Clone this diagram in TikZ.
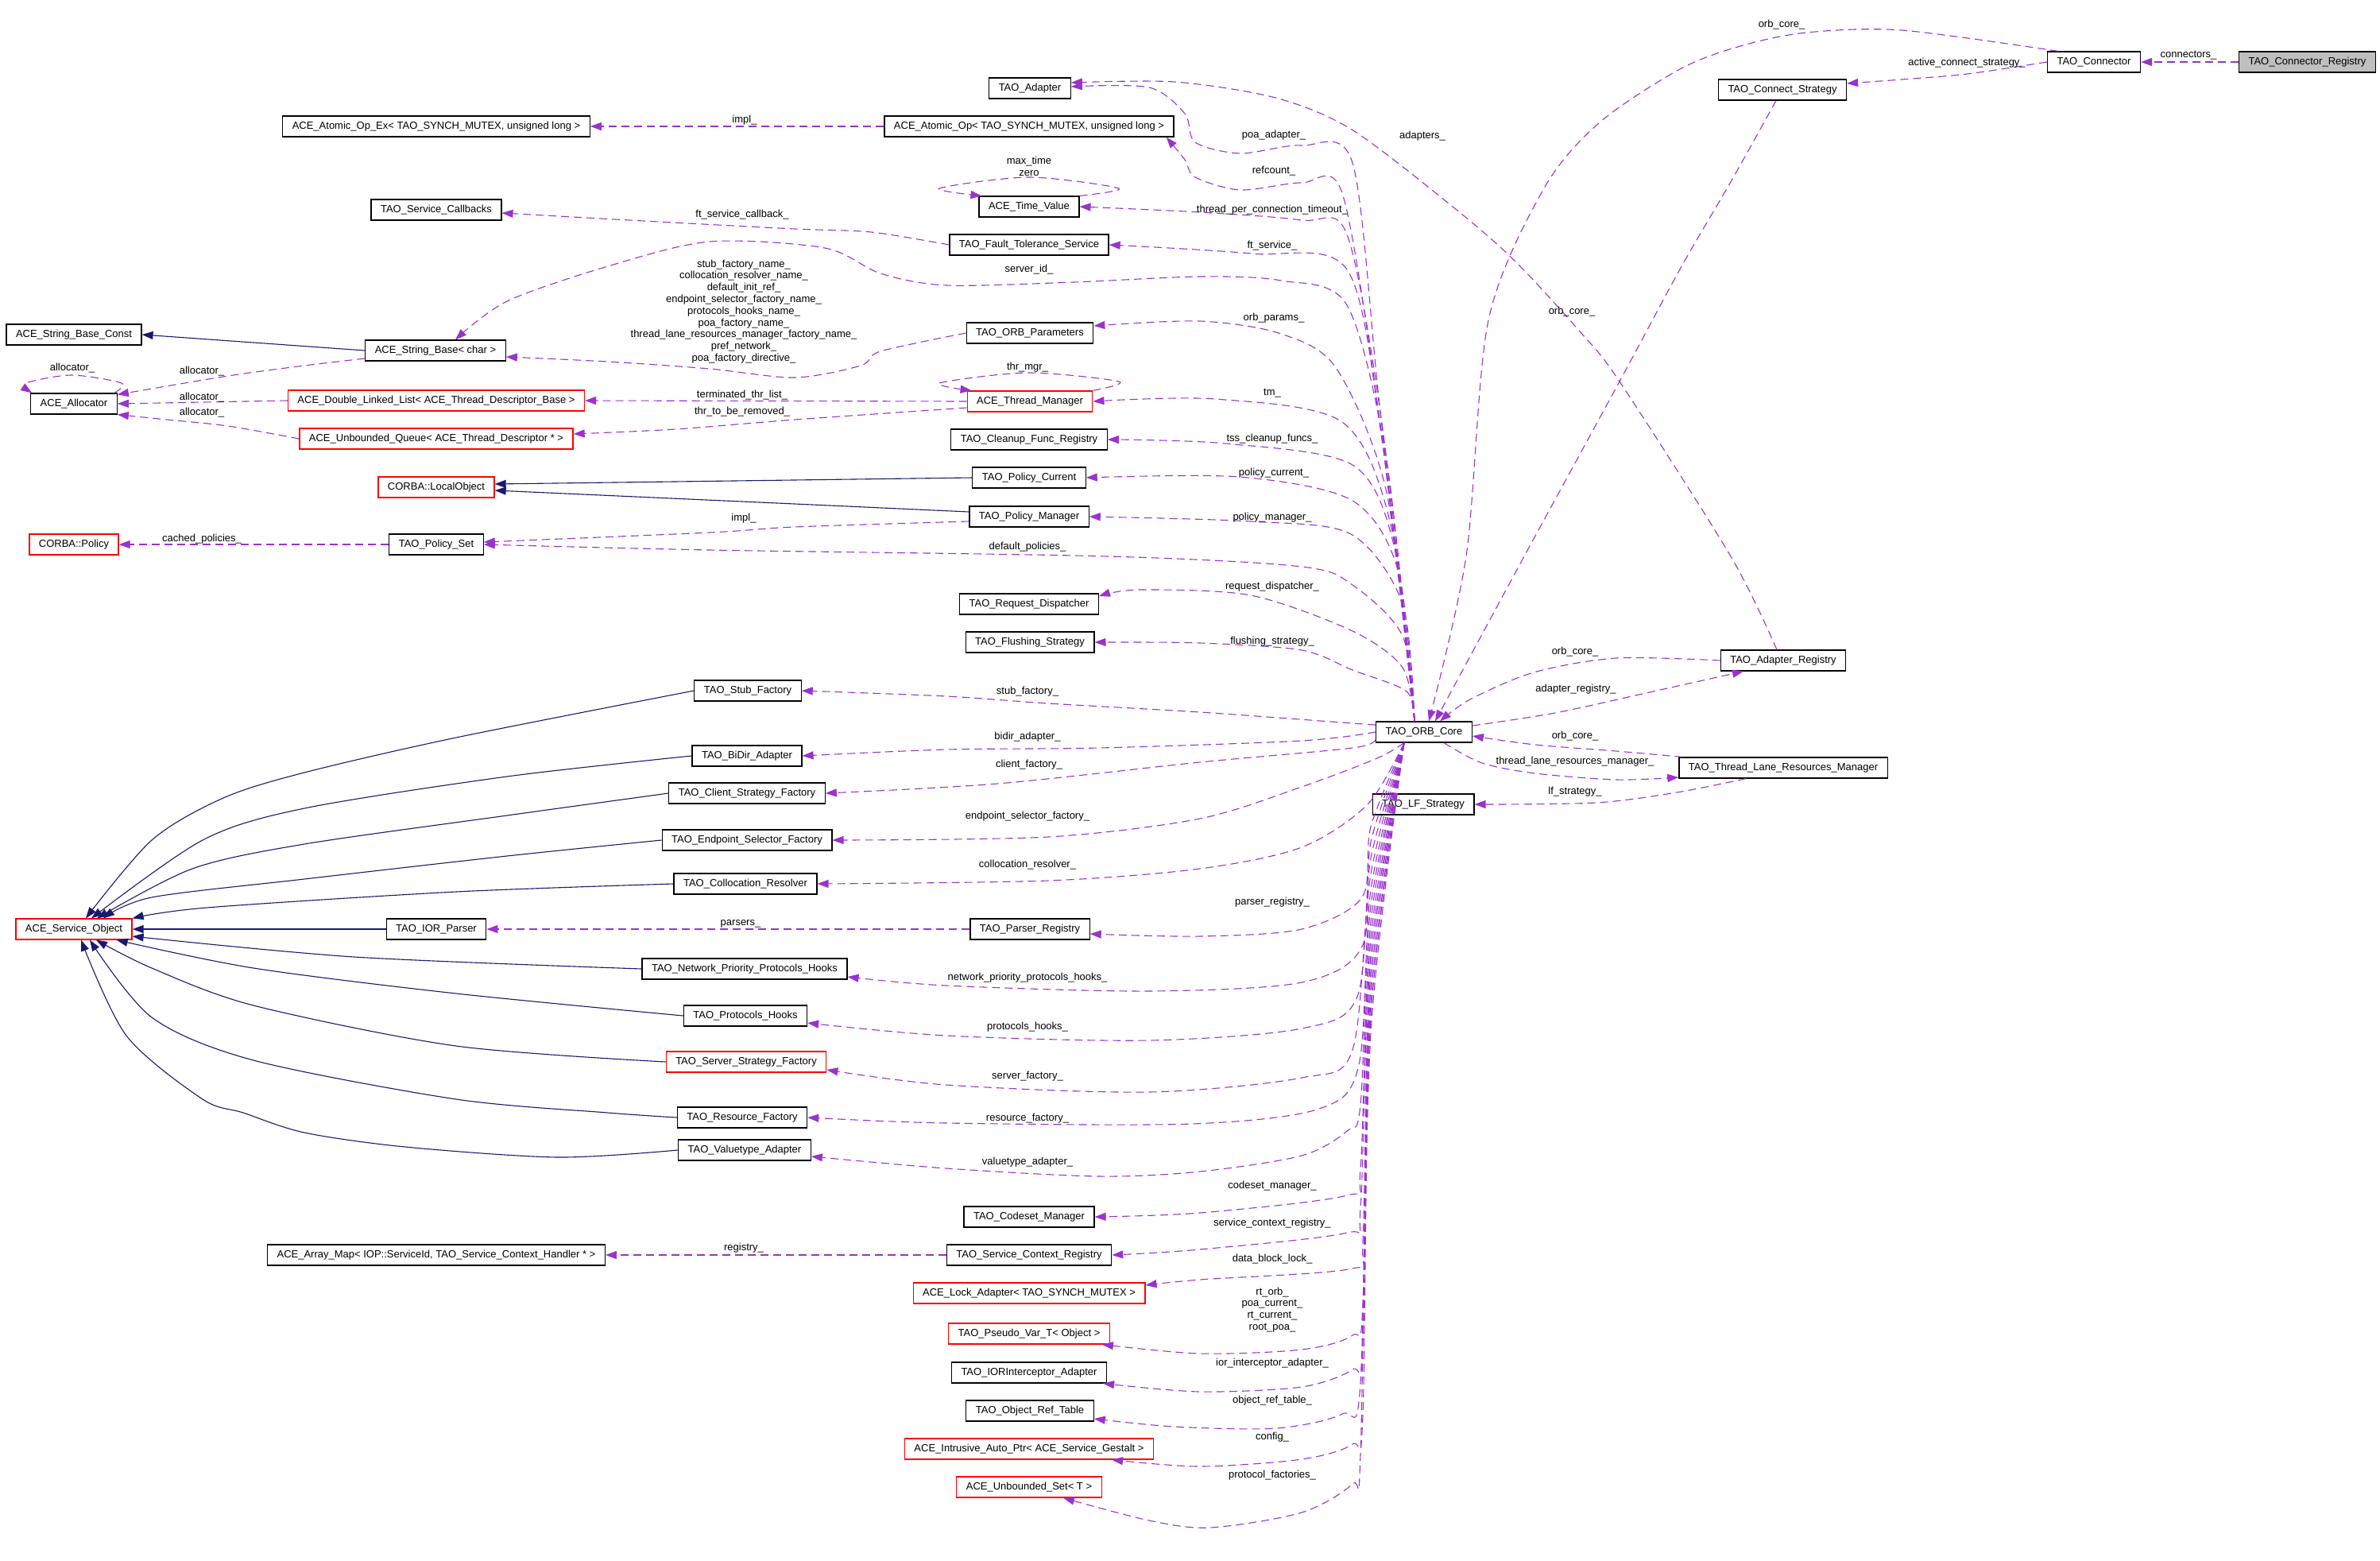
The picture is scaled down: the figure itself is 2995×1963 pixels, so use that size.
\documentclass[tikz,border=0pt]{standalone}
\usepackage{fontspec}
\setmainfont{Liberation Sans}
\usetikzlibrary{arrows.meta,calc}
\definecolor{usecol}{HTML}{9A32CD}
\definecolor{isacol}{HTML}{191970}
\definecolor{hilite}{HTML}{BFBFBF}

\begin{document}
\begin{tikzpicture}[x=1pt, y=-1pt,
    cls/.style={rectangle, draw=black, line width=1.2pt, minimum height=26pt, inner xsep=12pt, inner ysep=0pt, font=\fontsize{13}{15}\selectfont},
    clsred/.style={cls, draw=red},
    uses/.style={usecol, line width=1.1pt, dash pattern=on 10pt off 6pt, -{Triangle[length=14pt,width=10pt]}},
    isa/.style={isacol, line width=1.1pt, -{Triangle[length=14pt,width=10pt]}},
    lbl/.style={font=\fontsize{13}{14.8}\selectfont, align=center, inner sep=0pt}]
    \useasboundingbox (0,0) rectangle (2995,1963);

    % classes, left to right
    \node[cls] (strconst) at (93,421) {ACE\_String\_Base\_Const};
    \node[cls] (alloc) at (93,508) {ACE\_Allocator};
    \node[clsred] (policy) at (93,685) {CORBA::Policy};
    \node[clsred] (svcobj) at (93,1169) {ACE\_Service\_Object};

    \node[cls] (atomicex) at (549,159) {ACE\_Atomic\_Op\_Ex< TAO\_SYNCH\_MUTEX, unsigned long >};
    \node[cls] (svccb) at (549,264) {TAO\_Service\_Callbacks};
    \node[cls] (strbase) at (548,441) {ACE\_String\_Base< char >};
    \node[clsred] (dlist) at (549,504) {ACE\_Double\_Linked\_List< ACE\_Thread\_Descriptor\_Base >};
    \node[clsred] (uqueue) at (549,552) {ACE\_Unbounded\_Queue< ACE\_Thread\_Descriptor * >};
    \node[clsred] (localobj) at (549,613) {CORBA::LocalObject};
    \node[cls] (policyset) at (549,685) {TAO\_Policy\_Set};
    \node[cls] (iorparser) at (549,1169) {TAO\_IOR\_Parser};
    \node[cls] (arraymap) at (549,1579) {ACE\_Array\_Map< IOP::ServiceId, TAO\_Service\_Context\_Handler * >};

    \node[cls] (stubf) at (941,869) {TAO\_Stub\_Factory};
    \node[cls] (bidir) at (940,951) {TAO\_BiDir\_Adapter};
    \node[cls] (clientsf) at (940,998) {TAO\_Client\_Strategy\_Factory};
    \node[cls] (epsel) at (940,1057) {TAO\_Endpoint\_Selector\_Factory};
    \node[cls] (colloc) at (938,1112) {TAO\_Collocation\_Resolver};
    \node[cls] (nethooks) at (937,1219) {TAO\_Network\_Priority\_Protocols\_Hooks};
    \node[cls] (prothooks) at (938,1278) {TAO\_Protocols\_Hooks};
    \node[clsred] (serversf) at (939,1336) {TAO\_Server\_Strategy\_Factory};
    \node[cls] (resf) at (934,1406) {TAO\_Resource\_Factory};
    \node[cls] (vtadapter) at (937,1447) {TAO\_Valuetype\_Adapter};

    \node[cls] (adapter) at (1296,111) {TAO\_Adapter};
    \node[cls] (atomic) at (1295,159) {ACE\_Atomic\_Op< TAO\_SYNCH\_MUTEX, unsigned long >};
    \node[cls] (timeval) at (1295,260) {ACE\_Time\_Value};
    \node[cls] (ftsvc) at (1295,308) {TAO\_Fault\_Tolerance\_Service};
    \node[cls] (orbparams) at (1296,419) {TAO\_ORB\_Parameters};
    \node[clsred] (thrmgr) at (1296,505) {ACE\_Thread\_Manager};
    \node[cls] (cleanup) at (1295,553) {TAO\_Cleanup\_Func\_Registry};
    \node[cls] (polcur) at (1295,601) {TAO\_Policy\_Current};
    \node[cls] (polmgr) at (1295,650) {TAO\_Policy\_Manager};
    \node[cls] (reqdisp) at (1295,760) {TAO\_Request\_Dispatcher};
    \node[cls] (flush) at (1296,808) {TAO\_Flushing\_Strategy};
    \node[cls] (parserreg) at (1296,1169) {TAO\_Parser\_Registry};
    \node[cls] (codeset) at (1295,1531) {TAO\_Codeset\_Manager};
    \node[cls] (svcctx) at (1295,1579) {TAO\_Service\_Context\_Registry};
    \node[clsred] (lockad) at (1295,1627) {ACE\_Lock\_Adapter< TAO\_SYNCH\_MUTEX >};
    \node[clsred] (pseudo) at (1295,1678) {TAO\_Pseudo\_Var\_T< Object >};
    \node[cls] (iorint) at (1295,1727) {TAO\_IORInterceptor\_Adapter};
    \node[cls] (objref) at (1296,1775) {TAO\_Object\_Ref\_Table};
    \node[clsred] (autoptr) at (1295,1823) {ACE\_Intrusive\_Auto\_Ptr< ACE\_Service\_Gestalt >};
    \node[clsred] (uset) at (1295,1871) {ACE\_Unbounded\_Set< T >};

    \node[cls] (orbcore) at (1792,921) {TAO\_ORB\_Core};
    \node[cls] (lfstrat) at (1791,1012) {TAO\_LF\_Strategy};

    \node[cls] (connstrat) at (2243,113) {TAO\_Connect\_Strategy};
    \node[cls] (adreg) at (2244,831) {TAO\_Adapter\_Registry};
    \node[cls] (tlrm) at (2244,966) {TAO\_Thread\_Lane\_Resources\_Manager};
    \node[cls] (connector) at (2635,78) {TAO\_Connector};
    \node[cls, fill=hilite, anchor=east] (connreg) at (2990,78) {TAO\_Connector\_Registry};

    \coordinate (otop) at ($(orbcore.north)+(-12,0)$);
    \coordinate (obot) at ($(orbcore.south)+(-25,0)$);

    % inheritance
    \draw[isa] (strbase.west) -- (strconst.east);
    \draw[isa] (polcur.west) -- ($(localobj.east)+(0,-4)$);
    \draw[isa] plot[smooth] coordinates {($(polmgr.west)+(0,-6)$) (1000,634) ($(localobj.east)+(0,4)$)};
    \draw[isa] plot[smooth] coordinates {(stubf.west) (574,928) (383,972) (281,1004) (191,1057) ($(svcobj.north)+(15,0)$)};
    \draw[isa] plot[smooth] coordinates {(bidir.west) (638,977) (383,1017) (255,1057) ($(svcobj.north)+(22,0)$)};
    \draw[isa] plot[smooth] coordinates {(clientsf.west) (638,1026) (383,1062) (242,1093) ($(svcobj.north)+(29,0)$)};
    \draw[isa] plot[smooth] coordinates {(epsel.west) (638,1077) (383,1106) (191,1129) ($(svcobj.north)+(37,0)$)};
    \draw[isa] plot[smooth] coordinates {(colloc.west) (574,1122) (260,1142) (svcobj.north east)};
    \draw[isa] (iorparser.west) -- (svcobj.east);
    \draw[isa] plot[smooth] coordinates {(nethooks.west) (446,1204) ($(svcobj.east)+(0,9)$)};
    \draw[isa] plot[smooth] coordinates {(prothooks.west) (574,1250) (319,1218) ($(svcobj.south east)+(-20,0)$)};
    \draw[isa] plot[smooth] coordinates {(serversf.west) (574,1316) (319,1265) (191,1218) ($(svcobj.south)+(28,0)$)};
    \draw[isa] plot[smooth] coordinates {(resf.west) (765,1400) (574,1383) (319,1334) (191,1280) ($(svcobj.south)+(20,0)$)};
    \draw[isa] plot[smooth] coordinates {(vtadapter.west) (702,1456) (510,1443) (383,1425) (306,1400) (255,1383) (159,1303) ($(svcobj.south)+(9,0)$)};

    % usage, left part
    \draw[uses] (atomic.west) -- (atomicex.east);
    \draw[uses] plot[smooth] coordinates {(ftsvc.west) (1096,292) (1000,288) (829,279) ($(svccb.east)+(0,4)$)};
    \draw[uses] plot[smooth] coordinates {(orbparams.west) (1108,442) (1083,460) (1000,475) (893,464) (765,455) ($(strbase.east)+(0,8)$)};
    \draw[uses] plot[smooth] coordinates {($(strbase.west)+(0,10)$) (383,460) (287,473) ($(alloc.north east)+(0,2)$)};
    \draw[uses] plot[smooth] coordinates {($(alloc.north east)+(-4,0)$) (153,482) (90,472) (33,482) ($(alloc.north west)+(2,0)$)};
    \draw[uses] (dlist.west) -- (alloc.east);
    \draw[uses] plot[smooth] coordinates {(uqueue.west) (287,536) (210,528) (alloc.south east)};
    \draw[uses] (thrmgr.west) -- (dlist.east);
    \draw[uses] plot[smooth] coordinates {($(thrmgr.west)+(0,8)$) (1000,528) (850,540) ($(uqueue.east)+(0,-6)$)};
    \draw[uses] plot[smooth] coordinates {(thrmgr.north east) (1408,480) (1293,469) (1182,482) ($(thrmgr.north west)+(6,0)$)};
    \draw[uses] plot[smooth] coordinates {(timeval.north east) (1408,237) (1295,223) (1182,237) ($(timeval.north west)+(4,0)$)};
    \draw[uses] plot[smooth] coordinates {($(polmgr.west)+(0,6)$) (1000,663) (893,670) ($(policyset.east)+(0,-3)$)};
    \draw[uses] (policyset.west) -- (policy.east);
    \draw[uses] (parserreg.west) -- (iorparser.east);
    \draw[uses] (svcctx.west) -- (arraymap.east);

    % usage, from TAO_ORB_Core upwards
    \draw[uses] plot[smooth] coordinates {(otop) (1735,500) (1702,205) (1638,183) (1561,193) (1504,179) (1491,143) (1446,110) ($(adapter.east)+(0,-2)$)};
    \draw[uses] plot[smooth] coordinates {(otop) (1735,520) (1689,243) (1638,230) (1561,239) (1504,223) (1491,201) ($(atomic.south east)+(-10,0)$)};
    \draw[uses] plot[smooth] coordinates {(otop) (1740,540) (1695,295) (1638,277) (1510,267) (timeval.east)};
    \draw[uses] plot[smooth] coordinates {(otop) (1740,560) (1695,339) (1574,319) (ftsvc.east)};
    \draw[uses] plot[smooth] coordinates {(otop) (1745,580) (1695,384) (1612,353) (1510,348) (1351,355) (1191,359) (1108,344) (1038,312) (893,304) (765,335) (638,379) ($(strbase.north)+(25,0)$)};
    \draw[uses] plot[smooth] coordinates {(otop) (1745,620) (1682,464) (1612,420) (1510,404) ($(orbparams.east)+(0,-9)$)};
    \draw[uses] plot[smooth] coordinates {(otop) (1750,660) (1689,531) (1529,502) (thrmgr.east)};
    \draw[uses] plot[smooth] coordinates {(otop) (1755,690) (1702,585) (1542,558) (cleanup.east)};
    \draw[uses] plot[smooth] coordinates {(otop) (1760,720) (1702,630) (1560,600) (polcur.east)};
    \draw[uses] plot[smooth] coordinates {(otop) (1765,760) (1700,672) (1574,656) (polmgr.east)};
    \draw[uses] plot[smooth] coordinates {(otop) (1765,800) (1702,736) (1638,713) (1395,700) (893,692) (policyset.east)};
    \draw[uses] plot[smooth] coordinates {(otop) (1765,840) (1702,794) (1574,749) (1434,742) ($(reqdisp.east)+(0,-10)$)};
    \draw[uses] plot[smooth] coordinates {(otop) (1770,870) (1702,843) (1638,818) (1510,809) (flush.east)};

    % usage, from TAO_ORB_Core to the left and downwards
    \draw[uses] plot[smooth] coordinates {($(orbcore.west)+(0,-9)$) (1702,910) (1510,896) (1319,885) (1191,876) (stubf.east)};
    \draw[uses] plot[smooth] coordinates {(orbcore.west) (1638,932) (1383,941) (1191,943) (bidir.east)};
    \draw[uses] plot[smooth] coordinates {($(orbcore.west)+(0,9)$) (1702,941) (1510,959) (1255,986) (clientsf.east)};
    \draw[uses] plot[smooth] coordinates {(obot) (1733,954) (1638,990) (1510,1030) (1319,1053) (epsel.east)};
    \draw[uses] plot[smooth] coordinates {(obot) (1721,1012) (1638,1066) (1510,1093) (1319,1108) (colloc.east)};
    \draw[uses] plot[smooth] coordinates {(obot) (1725,1040) (1714,1129) (1638,1169) (1510,1178) ($(parserreg.east)+(0,6)$)};
    \draw[uses] plot[smooth] coordinates {(obot) (1725,1060) (1714,1191) (1638,1236) (1446,1247) (1191,1240) ($(nethooks.east)+(0,10)$)};
    \draw[uses] plot[smooth] coordinates {(obot) (1725,1080) (1708,1254) (1638,1294) (1446,1309) (1191,1303) ($(prothooks.east)+(0,9)$)};
    \draw[uses] plot[smooth] coordinates {(obot) (1725,1100) (1702,1321) (1638,1356) (1446,1374) (1191,1365) ($(serversf.east)+(0,10)$)};
    \draw[uses] plot[smooth] coordinates {(obot) (1725,1120) (1710,1340) (1660,1395) (1500,1414) (1191,1413) (resf.east)};
    \draw[uses] plot[smooth] coordinates {(obot) (1725,1140) (1712,1390) (1695,1423) (1638,1454) (1510,1474) (1383,1480) (1191,1470) ($(vtadapter.east)+(0,8)$)};
    \draw[uses] plot[smooth] coordinates {(obot) (1725,1160) (1712,1470) (1695,1504) (1510,1526) (codeset.east)};
    \draw[uses] plot[smooth] coordinates {(obot) (1725,1180) (1712,1520) (1695,1551) (1510,1572) (svcctx.east)};
    \draw[uses] plot[smooth] coordinates {(obot) (1725,1200) (1715,1560) (1702,1596) (1510,1610) ($(lockad.east)+(0,-10)$)};
    \draw[uses] plot[smooth] coordinates {(obot) (1725,1220) (1715,1640) (1702,1680) (1638,1698) (1510,1703) ($(pseudo.south east)+(-10,0)$)};
    \draw[uses] plot[smooth] coordinates {(obot) (1725,1240) (1715,1690) (1702,1723) (1638,1745) (1510,1751) ($(iorint.south east)+(-5,0)$)};
    \draw[uses] plot[smooth] coordinates {(obot) (1725,1260) (1712,1740) (1689,1779) (1606,1797) (1478,1795) ($(objref.east)+(0,10)$)};
    \draw[uses] plot[smooth] coordinates {(obot) (1725,1280) (1715,1780) (1702,1817) (1638,1836) (1510,1845) ($(autoptr.south)+(104,0)$)};
    \draw[uses] plot[smooth] coordinates {(obot) (1725,1300) (1712,1830) (1702,1867) (1638,1903) (1523,1922) (1446,1913) ($(uset.south)+(43,0)$)};

    % usage, right part
    \draw[uses] (connreg.west) -- (connector.east);
    \draw[uses] plot[smooth] coordinates {(connector.west) (2476,93) (2393,100) ($(connstrat.east)+(0,-8)$)};
    \draw[uses] plot[smooth] coordinates {($(connector.north)+(-45,0)$) (2393,38) (2273,41) (2190,58) (2114,87) (2013,154) (1943,237) (1873,403) (1845,700) ($(orbcore.north)+(6,0)$)};
    \draw[uses] plot[smooth] coordinates {($(connstrat.south)+(-8,0)$) (2179,227) (2115,337) (2038,480) (1918,700) ($(orbcore.north)+(14,0)$)};
    \draw[uses] plot[smooth] coordinates {($(adreg.north)+(-8,0)$) (2178,700) (2038,480) (1988,417) (1905,327) (1828,260) (1701,163) (1605,123) (1478,103) ($(adapter.east)+(0,-7)$)};
    \draw[uses] plot[smooth] coordinates {(adreg.west) (2034,828) (1930,846) (1850,880) ($(orbcore.north)+(20,0)$)};
    \draw[uses] plot[smooth] coordinates {($(orbcore.east)+(0,-8)$) (1957,897) (2080,870) ($(adreg.south)+(-50,0)$)};
    \draw[uses] plot[smooth] coordinates {($(tlrm.north west)+(5,0)$) (2034,945) (1932,937) ($(orbcore.east)+(0,5)$)};
    \draw[uses] plot[smooth] coordinates {($(orbcore.south)+(25,0)$) (1865,960) (1932,973) (2034,981) ($(tlrm.west)+(0,12)$)};
    \draw[uses] plot[smooth] coordinates {($(tlrm.south)+(-47,0)$) (2110,997) (2008,1010) (lfstrat.east)};

    % edge labels
    \node[lbl] (l-impl) at (937,151) {impl\_};
    \node[lbl] (l-ftcb) at (934,270) {ft\_service\_callback\_};
    \node[lbl] (l-names) at (936,392) {stub\_factory\_name\_\\collocation\_resolver\_name\_\\default\_init\_ref\_\\endpoint\_selector\_factory\_name\_\\protocols\_hooks\_name\_\\poa\_factory\_name\_\\thread\_lane\_resources\_manager\_factory\_name\_\\pref\_network\_\\poa\_factory\_directive\_};
    \node[lbl] (l-alloc0) at (91,463) {allocator\_};
    \node[lbl] (l-alloc1) at (254,467) {allocator\_};
    \node[lbl] (l-alloc2) at (254,500) {allocator\_};
    \node[lbl] (l-alloc3) at (254,519) {allocator\_};
    \node[lbl] (l-term) at (934,497) {terminated\_thr\_list\_};
    \node[lbl] (l-remove) at (934,518) {thr\_to\_be\_removed\_};
    \node[lbl] (l-impl2) at (936,652) {impl\_};
    \node[lbl] (l-cached) at (254,678) {cached\_policies\_};
    \node[lbl] (l-poa) at (1603,170) {poa\_adapter\_};
    \node[lbl] (l-adapters) at (1790,171) {adapters\_};
    \node[lbl] (l-time) at (1295,209) {max\_time\\zero};
    \node[lbl] (l-ref) at (1603,215) {refcount\_};
    \node[lbl] (l-tpct) at (1601,264) {thread\_per\_connection\_timeout\_};
    \node[lbl] (l-ft) at (1601,309) {ft\_service\_};
    \node[lbl] (l-sid) at (1295,339) {server\_id\_};
    \node[lbl] (l-core1) at (1978,392) {orb\_core\_};
    \node[lbl] (l-params) at (1603,400) {orb\_params\_};
    \node[lbl] (l-thr) at (1293,462) {thr\_mgr\_};
    \node[lbl] (l-tm) at (1601,495) {tm\_};
    \node[lbl] (l-tss) at (1601,552) {tss\_cleanup\_funcs\_};
    \node[lbl] (l-pcur) at (1603,595) {policy\_current\_};
    \node[lbl] (l-pmgr) at (1601,651) {policy\_manager\_};
    \node[lbl] (l-defpol) at (1293,688) {default\_policies\_};
    \node[lbl] (l-core0) at (2242,31) {orb\_core\_};
    \node[lbl] (l-conns) at (2754,70) {connectors\_};
    \node[lbl] (l-acs) at (2475,79) {active\_connect\_strategy\_};
    \node[lbl] (l-reqd) at (1601,738) {request\_dispatcher\_};
    \node[lbl] (l-flush) at (1601,807) {flushing\_strategy\_};
    \node[lbl] (l-stub) at (1293,870) {stub\_factory\_};
    \node[lbl] (l-bidir) at (1293,927) {bidir\_adapter\_};
    \node[lbl] (l-client) at (1295,962) {client\_factory\_};
    \node[lbl] (l-epsel) at (1293,1027) {endpoint\_selector\_factory\_};
    \node[lbl] (l-colloc) at (1293,1088) {collocation\_resolver\_};
    \node[lbl] (l-parsers) at (932,1162) {parsers\_};
    \node[lbl] (l-preg) at (1601,1135) {parser\_registry\_};
    \node[lbl] (l-net) at (1293,1230) {network\_priority\_protocols\_hooks\_};
    \node[lbl] (l-proth) at (1293,1292) {protocols\_hooks\_};
    \node[lbl] (l-server) at (1293,1354) {server\_factory\_};
    \node[lbl] (l-res) at (1293,1407) {resource\_factory\_};
    \node[lbl] (l-vt) at (1293,1462) {valuetype\_adapter\_};
    \node[lbl] (l-codeset) at (1601,1492) {codeset\_manager\_};
    \node[lbl] (l-sctx) at (1601,1539) {service\_context\_registry\_};
    \node[lbl] (l-reg) at (936,1570) {registry\_};
    \node[lbl] (l-lock) at (1601,1584) {data\_block\_lock\_};
    \node[lbl] (l-pseudo) at (1601,1648) {rt\_orb\_\\poa\_current\_\\rt\_current\_\\root\_poa\_};
    \node[lbl] (l-iorint) at (1601,1715) {ior\_interceptor\_adapter\_};
    \node[lbl] (l-objref) at (1601,1762) {object\_ref\_table\_};
    \node[lbl] (l-config) at (1601,1808) {config\_};
    \node[lbl] (l-pf) at (1601,1856) {protocol\_factories\_};
    \node[lbl] (l-core2) at (1982,820) {orb\_core\_};
    \node[lbl] (l-adreg) at (1983,867) {adapter\_registry\_};
    \node[lbl] (l-core3) at (1982,926) {orb\_core\_};
    \node[lbl] (l-tlrm) at (1982,958) {thread\_lane\_resources\_manager\_};
    \node[lbl] (l-lf) at (1982,996) {lf\_strategy\_};
\end{tikzpicture}
\end{document}
